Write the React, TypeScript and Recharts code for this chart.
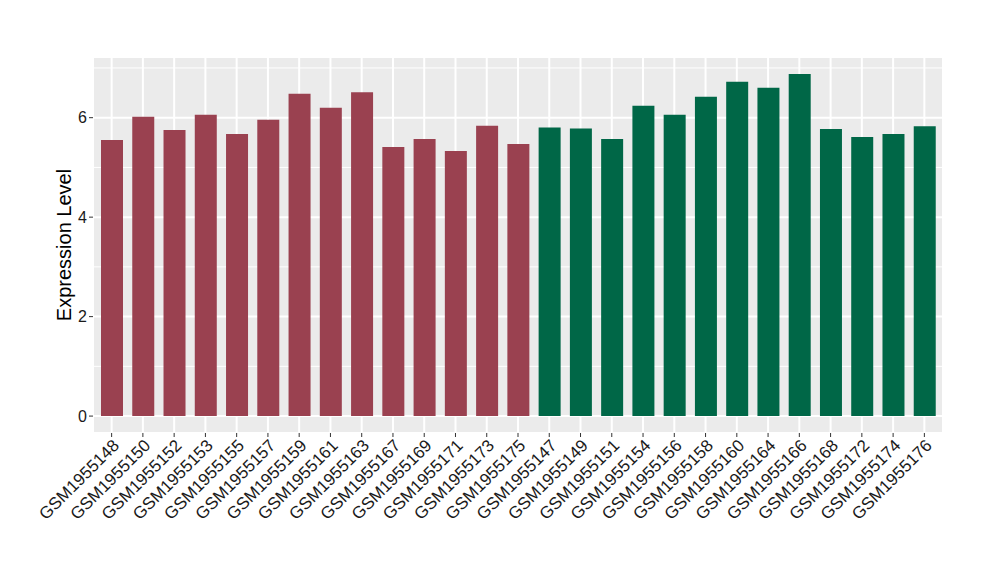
import { BarChart, Bar, XAxis, YAxis, CartesianGrid, Cell } from "recharts";

const SAMPLES = [
  "GSM1955148", "GSM1955150", "GSM1955152", "GSM1955153", "GSM1955155", "GSM1955157", "GSM1955159",
  "GSM1955161", "GSM1955163", "GSM1955167", "GSM1955169", "GSM1955171", "GSM1955173", "GSM1955175",
  "GSM1955147", "GSM1955149", "GSM1955151", "GSM1955154", "GSM1955156", "GSM1955158", "GSM1955160",
  "GSM1955164", "GSM1955166", "GSM1955168", "GSM1955172", "GSM1955174", "GSM1955176",
];
const VALUES = [
  5.55, 6.02, 5.75, 6.06, 5.67, 5.96, 6.48, 6.2, 6.51, 5.41, 5.57, 5.33, 5.84, 5.47,
  5.8, 5.78, 5.57, 6.24, 6.06, 6.42, 6.72, 6.6, 6.88, 5.77, 5.61, 5.67, 5.83,
];
const GROUPS = [
  "a", "a", "a", "a", "a", "a", "a", "a", "a", "a", "a", "a", "a", "a",
  "b", "b", "b", "b", "b", "b", "b", "b", "b", "b", "b", "b", "b",
];
const Y_TICKS = [0, 2, 4, 6];
const Y_MINOR = [1, 3, 5, 7];

const GROUP_COLORS: Record<string, string> = { a: "#9A4150", b: "#006747" };
const FONT = "'Liberation Sans', Arial, sans-serif";

const data = SAMPLES.map((name, i) => ({ name, value: VALUES[i], group: GROUPS[i] }));

function XTick({ x, y, payload }: any) {
  return (
    <text
      transform={`translate(${x},${y}) rotate(-45)`}
      textAnchor="end"
      dy="0.71em"
      fontSize={17}
      fontFamily={FONT}
      fill="#1a1a1a"
    >
      {payload.value}
    </text>
  );
}

// y title, drawn by hand so it sits where the reference has it
const yTitle = () => (
  <text
    transform="translate(71,245) rotate(-90)"
    textAnchor="middle"
    fontSize={20}
    fontFamily={FONT}
    fill="#000"
  >
    Expression Level
  </text>
);

export default function App() {
  return (
    <div style={{ position: "absolute", left: 0, top: 0, width: 1000, height: 580, background: "#fff" }}>
      <BarChart
        width={1000}
        height={580}
        data={data}
        margin={{ top: 57, right: 57, bottom: 0, left: 0 }}
        barSize={22}
      >
        {/* minor grid first, then major on top */}
        <CartesianGrid fill="#EBEBEB" stroke="#fff" strokeWidth={1} vertical={false} horizontalValues={Y_MINOR} />
        <CartesianGrid stroke="#fff" strokeWidth={2} />
        <XAxis
          dataKey="name"
          interval={0}
          padding={{ left: 3, right: 3 }}
          axisLine={false}
          tickSize={4}
          tickLine={{ stroke: "#333", strokeWidth: 1 }}
          tick={<XTick />}
          tickMargin={1}
          height={147}
        />
        <YAxis
          width={93}
          domain={[-0.34, 7.22]}
          allowDataOverflow
          ticks={Y_TICKS}
          axisLine={false}
          tickSize={4}
          tickLine={{ stroke: "#333", strokeWidth: 1 }}
          tickMargin={2}
          tick={{ fontSize: 16, fontFamily: FONT, fill: "#1a1a1a" }}
          label={{ content: yTitle }}
        />
        <Bar dataKey="value" isAnimationActive={false}>
          {data.map((d, i) => (
            <Cell key={i} fill={GROUP_COLORS[d.group]} />
          ))}
        </Bar>
      </BarChart>
    </div>
  );
}
